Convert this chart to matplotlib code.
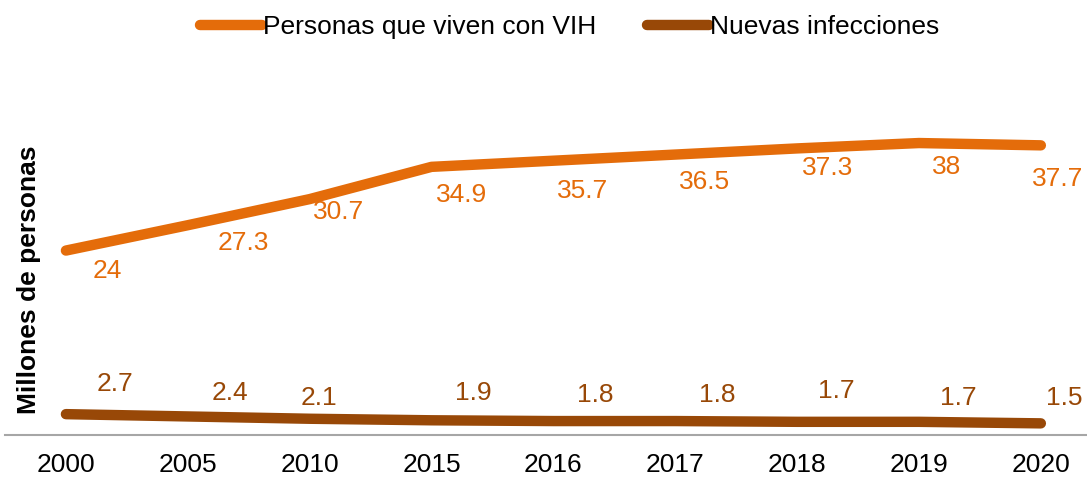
import matplotlib.pyplot as plt

plt.rcParams['font.family'] = ['Liberation Sans', 'DejaVu Sans']

years = ["2000", "2005", "2010", "2015", "2016", "2017", "2018", "2019", "2020"]
living_hiv = [24, 27.3, 30.7, 34.9, 35.7, 36.5, 37.3, 38, 37.7]
new_infections = [2.7, 2.4, 2.1, 1.9, 1.8, 1.8, 1.7, 1.7, 1.5]

living_labels = ["24", "27.3", "30.7", "34.9", "35.7", "36.5", "37.3", "38", "37.7"]
new_labels = ["2.7", "2.4", "2.1", "1.9", "1.8", "1.8", "1.7", "1.7", "1.5"]

# label offsets (points) as placed in the original
living_dx = [30, 40, 21, 22, 21, 21, 22, 20, 12]
living_dy = [-15, -13, -9, -20, -22, -20, -14, -17, -24]
new_dx = [35, 30, 7, 30, 30, 30, 28, 28, 17]
new_dy = [22, 17, 15, 20, 19, 19, 22, 17, 18]

orange = "#E46C0A"
brown = "#984807"

fig = plt.figure(figsize=(10.87, 4.8), dpi=100)
ax = fig.add_axes([0.0046, 0.094, 1.009, 0.72])

x = list(range(len(years)))
ax.plot(x, living_hiv, color=orange, lw=7.5, solid_capstyle="round",
        solid_joinstyle="round", label="Personas que viven con VIH")
ax.plot(x, new_infections, color=brown, lw=7.5, solid_capstyle="round",
        solid_joinstyle="round", label="Nuevas infecciones")

for i in x:
    ax.annotate(living_labels[i], (i, living_hiv[i]), xytext=(living_dx[i], living_dy[i]),
                textcoords="offset points", ha="center", va="center",
                color=orange, fontsize=19)
    ax.annotate(new_labels[i], (i, new_infections[i]), xytext=(new_dx[i], new_dy[i]),
                textcoords="offset points", ha="center", va="center",
                color=brown, fontsize=19)

ax.set_xlim(-0.5, 8.5)
ax.set_ylim(0, 45)
ax.set_xticks(x)
ax.set_xticklabels(years, fontsize=19)
ax.tick_params(axis="x", length=0, pad=13)
ax.set_yticks([])
for s in ["top", "right", "left"]:
    ax.spines[s].set_visible(False)
ax.spines["bottom"].set_color("#A6A6A6")
ax.spines["bottom"].set_linewidth(1.5)

fig.text(0.027, 0.417, "Millones de personas", rotation=90, ha="center", va="center",
         fontsize=19, fontweight="bold")

fig.legend(loc="center", bbox_to_anchor=(0.524, 0.943), ncol=2, frameon=False,
           fontsize=19, handlelength=2.35, handletextpad=0.05, columnspacing=1.9)

plt.savefig("out.png", dpi=100)
